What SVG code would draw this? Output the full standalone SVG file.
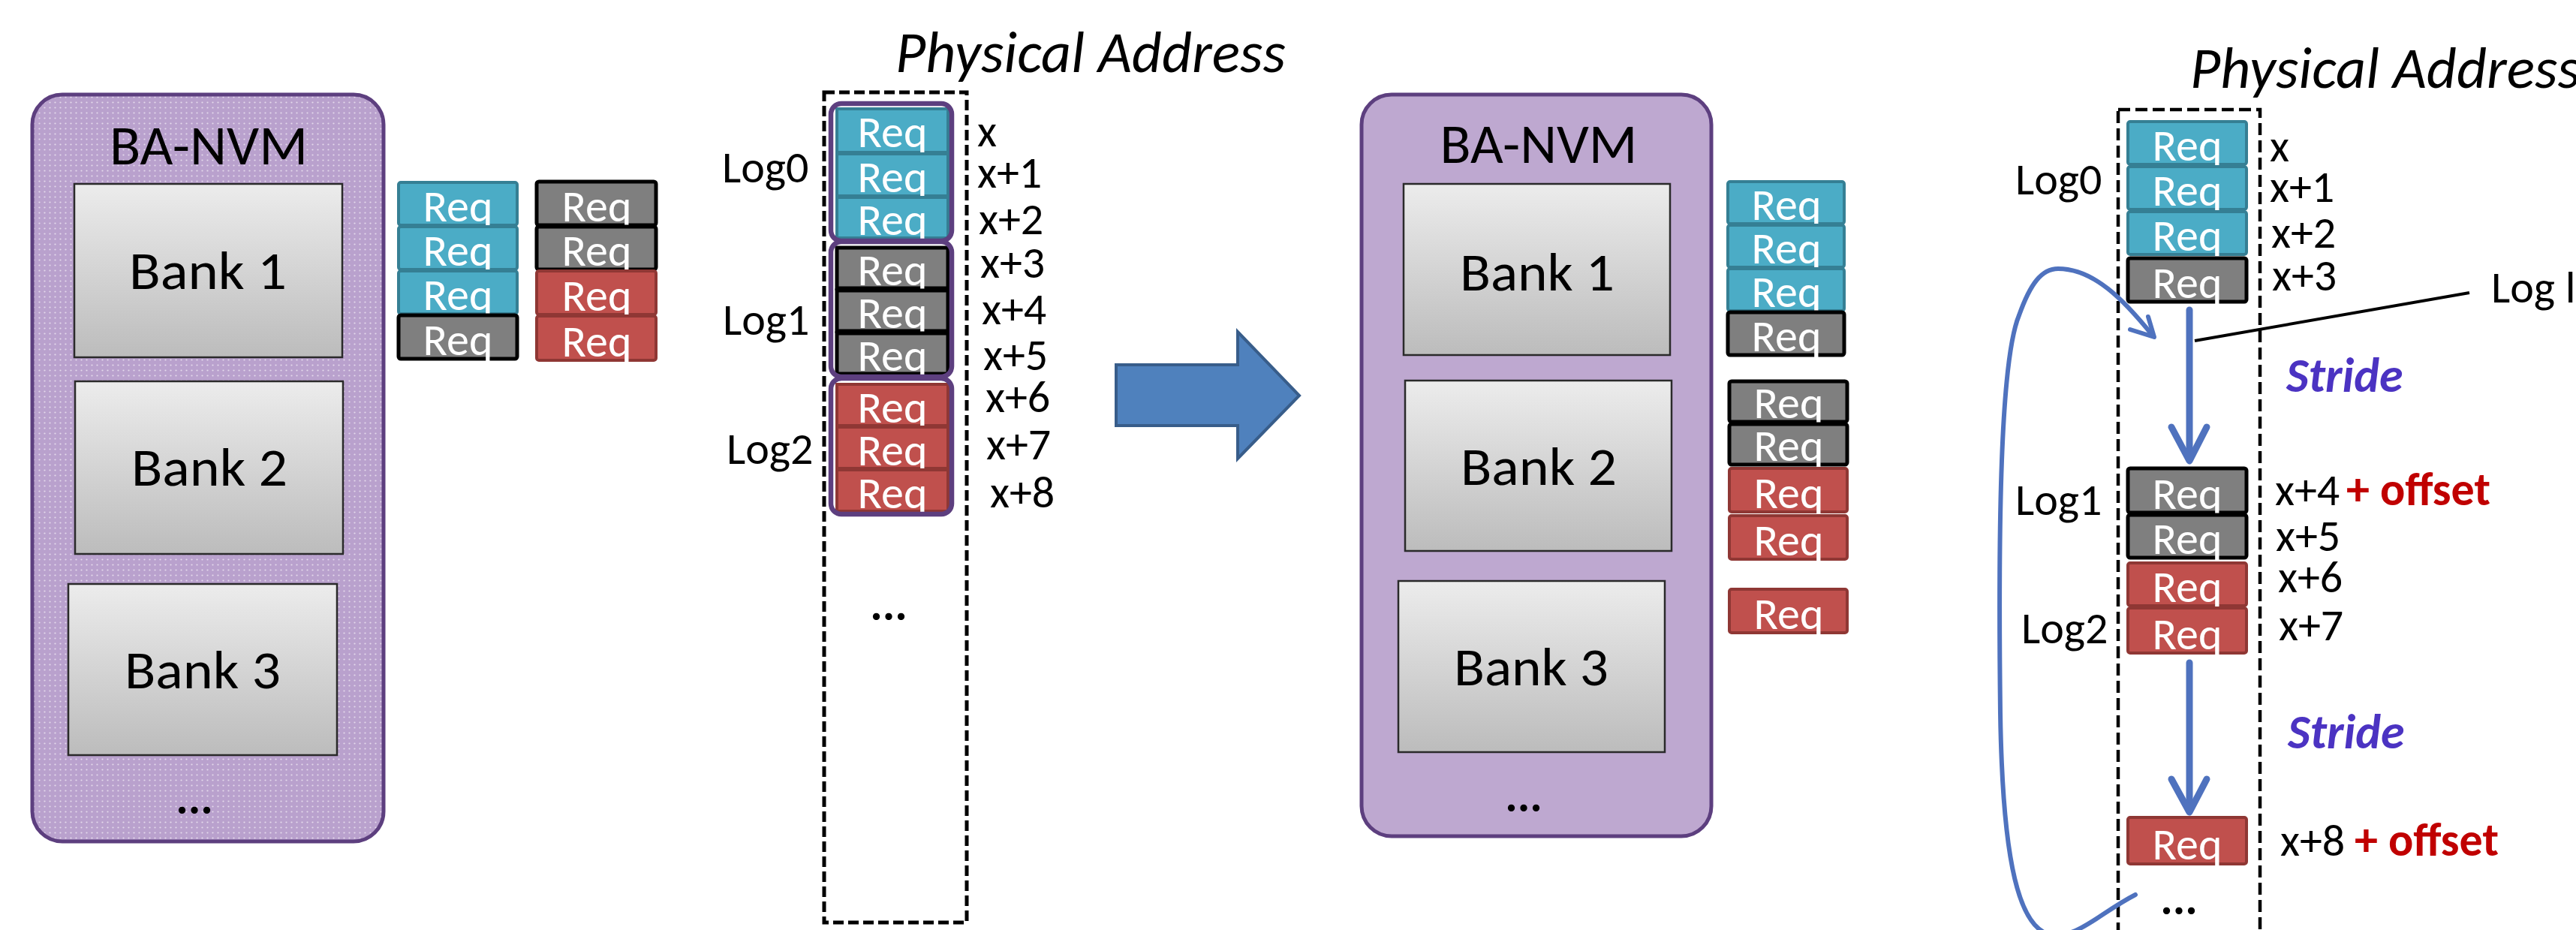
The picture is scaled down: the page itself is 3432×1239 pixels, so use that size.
<svg xmlns="http://www.w3.org/2000/svg" width="3432" height="1239" viewBox="0 0 3432 1239">
  <style>
    text { font-family: Carlito, "Liberation Sans", Arial, sans-serif; fill: #000; }
    .big { font-size: 74px; }
    .bank { font-size: 71px; }
    .lbl { font-size: 60px; }
    .req { font-size: 60px; fill: #fff; text-anchor: middle; }
    .dots { font-size: 62px; font-weight: bold; text-anchor: middle; }
    .pa { font-size: 78px; font-style: italic; }
    .stride { font-size: 64px; font-weight: bold; font-style: italic; fill: #4b33c2; }
    .off { fill: #c00000; font-weight: bold; font-size: 62px; }
    .nvm { stroke: #5d3f7f; stroke-width: 5; }
    .bankbox { fill: url(#bankGrad); stroke: #2a2a2a; stroke-width: 2.5; }
    .blue { fill: #4bacc6; stroke: #357f94; stroke-width: 4; }
    .gray { fill: #7f7f7f; stroke: #000; stroke-width: 5; }
    .red { fill: #c0504d; stroke: #8f3734; stroke-width: 4; }
    .grp { fill: none; stroke: #5d3f7f; stroke-width: 6.5; }
    .dash { fill: none; stroke: #000; stroke-width: 5; stroke-dasharray: 14 6; }
    .flow { fill: none; stroke: #4f72be; stroke-linecap: round; stroke-linejoin: round; }
  </style>
  <defs>
    <linearGradient id="bankGrad" x1="0" y1="0" x2="0" y2="1">
      <stop offset="0" stop-color="#ececec"/>
      <stop offset="1" stop-color="#bcbcbc"/>
    </linearGradient>
    <pattern id="dotPat" width="7" height="7" patternUnits="userSpaceOnUse">
      <rect width="7" height="7" fill="#b9a1cd"/>
      <circle cx="3.5" cy="3.5" r="1.1" fill="#ffffff" fill-opacity="0.6"/>
    </pattern>
  </defs>

  <!-- Left: BA-NVM with banks -->
  <g id="nvm-left">
    <rect class="nvm" x="43" y="126" width="468" height="995" rx="40" fill="url(#dotPat)"/>
    <text class="big" x="278" y="219" text-anchor="middle" textLength="264" lengthAdjust="spacingAndGlyphs">BA-NVM</text>
    <rect class="bankbox" x="99" y="245" width="357" height="231"/>
    <text class="bank" x="277" y="385" text-anchor="middle" textLength="210" lengthAdjust="spacingAndGlyphs">Bank 1</text>
    <rect class="bankbox" x="100" y="508" width="357" height="230"/>
    <text class="bank" x="279" y="647" text-anchor="middle" textLength="208" lengthAdjust="spacingAndGlyphs">Bank 2</text>
    <rect class="bankbox" x="91" y="778" width="358" height="228"/>
    <text class="bank" x="270" y="917" text-anchor="middle" textLength="208" lengthAdjust="spacingAndGlyphs">Bank 3</text>
    <text class="dots" x="259" y="1084">...</text>
  </g>

  <!-- Left: incoming request queues -->
  <g id="queue-left-1">
    <rect class="blue" x="531" y="243" width="158" height="57" rx="3"/><text class="req" x="610" y="295">Req</text>
    <rect class="blue" x="531" y="302" width="158" height="57" rx="3"/><text class="req" x="610" y="354">Req</text>
    <rect class="blue" x="531" y="361" width="158" height="57" rx="3"/><text class="req" x="610" y="413">Req</text>
    <rect class="gray" x="531" y="420" width="158" height="58" rx="3"/><text class="req" x="610" y="473">Req</text>
  </g>
  <g id="queue-left-2">
    <rect class="gray" x="715" y="242" width="159" height="58" rx="3"/><text class="req" x="795" y="295">Req</text>
    <rect class="gray" x="715" y="302" width="159" height="57" rx="3"/><text class="req" x="795" y="354">Req</text>
    <rect class="red" x="715" y="361" width="159" height="58" rx="3"/><text class="req" x="795" y="414">Req</text>
    <rect class="red" x="715" y="421" width="159" height="59" rx="3"/><text class="req" x="795" y="475">Req</text>
  </g>

  <!-- Middle: physical address layout of logs -->
  <g id="addr-space-1">
    <text class="pa" x="1193" y="96">Physical Address</text>
    <rect class="dash" x="1098" y="123" width="190" height="1106"/>
    <rect class="blue" x="1115" y="145" width="148" height="58"/><text class="req" x="1189" y="196">Req</text>
    <rect class="blue" x="1115" y="205" width="148" height="56"/><text class="req" x="1189" y="256">Req</text>
    <rect class="blue" x="1115" y="263" width="148" height="54"/><text class="req" x="1189" y="313">Req</text>
    <rect class="gray" x="1115" y="330" width="148" height="54"/><text class="req" x="1189" y="380">Req</text>
    <rect class="gray" x="1115" y="387" width="148" height="54"/><text class="req" x="1189" y="437">Req</text>
    <rect class="gray" x="1115" y="444" width="148" height="54"/><text class="req" x="1189" y="494">Req</text>
    <rect class="red" x="1115" y="512" width="148" height="55"/><text class="req" x="1189" y="563">Req</text>
    <rect class="red" x="1115" y="569" width="148" height="55"/><text class="req" x="1189" y="620">Req</text>
    <rect class="red" x="1115" y="626" width="148" height="55"/><text class="req" x="1189" y="677">Req</text>
    <rect class="grp" x="1107" y="138" width="161" height="183" rx="14"/>
    <rect class="grp" x="1107" y="322" width="161" height="180" rx="14"/>
    <rect class="grp" x="1107" y="504" width="161" height="181" rx="14"/>
    <text class="lbl" x="962" y="243">Log0</text>
    <text class="lbl" x="963" y="446">Log1</text>
    <text class="lbl" x="968" y="618">Log2</text>
    <text class="lbl" x="1302" y="195">x</text>
    <text class="lbl" x="1302" y="250">x+1</text>
    <text class="lbl" x="1304" y="312">x+2</text>
    <text class="lbl" x="1306" y="370">x+3</text>
    <text class="lbl" x="1308" y="432">x+4</text>
    <text class="lbl" x="1310" y="493">x+5</text>
    <text class="lbl" x="1313" y="549">x+6</text>
    <text class="lbl" x="1314" y="612">x+7</text>
    <text class="lbl" x="1319" y="676">x+8</text>
    <text class="dots" x="1184" y="826">...</text>
  </g>

  <!-- Middle right: BA-NVM with banks -->
  <g id="nvm-right">
    <rect class="nvm" x="1814" y="126" width="466" height="988" rx="40" fill="#bea8d0"/>
    <text class="big" x="2050" y="217" text-anchor="middle" textLength="263" lengthAdjust="spacingAndGlyphs">BA-NVM</text>
    <rect class="bankbox" x="1870" y="245" width="355" height="228"/>
    <text class="bank" x="2048" y="387" text-anchor="middle" textLength="206" lengthAdjust="spacingAndGlyphs">Bank 1</text>
    <rect class="bankbox" x="1872" y="507" width="355" height="227"/>
    <text class="bank" x="2050" y="646" text-anchor="middle" textLength="208" lengthAdjust="spacingAndGlyphs">Bank 2</text>
    <rect class="bankbox" x="1863" y="774" width="355" height="228"/>
    <text class="bank" x="2040" y="913" text-anchor="middle" textLength="206" lengthAdjust="spacingAndGlyphs">Bank 3</text>
    <text class="dots" x="2030" y="1081">...</text>
  </g>

  <!-- Middle right: per-bank request queues -->
  <g id="queue-bank1">
    <rect class="blue" x="2302" y="242" width="155" height="56" rx="3"/><text class="req" x="2380" y="293">Req</text>
    <rect class="blue" x="2302" y="300" width="155" height="56" rx="3"/><text class="req" x="2380" y="351">Req</text>
    <rect class="blue" x="2302" y="358" width="155" height="56" rx="3"/><text class="req" x="2380" y="409">Req</text>
    <rect class="gray" x="2302" y="416" width="155" height="57" rx="3"/><text class="req" x="2380" y="468">Req</text>
  </g>
  <g id="queue-bank2">
    <rect class="gray" x="2304" y="508" width="157" height="54" rx="3"/><text class="req" x="2383" y="557">Req</text>
    <rect class="gray" x="2304" y="565" width="157" height="54" rx="3"/><text class="req" x="2383" y="614">Req</text>
    <rect class="red" x="2304" y="624" width="157" height="58" rx="3"/><text class="req" x="2383" y="677">Req</text>
    <rect class="red" x="2304" y="687" width="157" height="58" rx="3"/><text class="req" x="2383" y="740">Req</text>
  </g>
  <g id="queue-bank3">
    <rect class="red" x="2304" y="785" width="157" height="58" rx="3"/><text class="req" x="2383" y="838">Req</text>
  </g>

  <!-- Right: strided physical address layout -->
  <g id="addr-space-2">
    <text class="pa" x="2918" y="117">Physical Address</text>
    <rect class="dash" x="2822" y="146" width="189" height="1200" style="stroke-width:4.5;stroke-dasharray:16 7"/>
    <rect class="blue" x="2835" y="162" width="158" height="57" rx="3"/><text class="req" x="2914" y="214">Req</text>
    <rect class="blue" x="2835" y="222" width="158" height="57" rx="3"/><text class="req" x="2914" y="274">Req</text>
    <rect class="blue" x="2835" y="282" width="158" height="57" rx="3"/><text class="req" x="2914" y="334">Req</text>
    <rect class="gray" x="2835" y="344" width="158" height="58" rx="3"/><text class="req" x="2914" y="397">Req</text>
    <rect class="gray" x="2835" y="624" width="158" height="59" rx="3"/><text class="req" x="2914" y="678">Req</text>
    <rect class="gray" x="2835" y="686" width="158" height="57" rx="3"/><text class="req" x="2914" y="738">Req</text>
    <rect class="red" x="2835" y="750" width="158" height="57" rx="3"/><text class="req" x="2914" y="802">Req</text>
    <rect class="red" x="2835" y="810" width="158" height="60" rx="3"/><text class="req" x="2914" y="865">Req</text>
    <rect class="red" x="2835" y="1089" width="158" height="62" rx="3"/><text class="req" x="2914" y="1145">Req</text>
    <text class="lbl" x="2685" y="259">Log0</text>
    <text class="lbl" x="2685" y="686">Log1</text>
    <text class="lbl" x="2693" y="857">Log2</text>
    <text class="lbl" x="3024" y="215">x</text>
    <text class="lbl" x="3024" y="269">x+1</text>
    <text class="lbl" x="3026" y="330">x+2</text>
    <text class="lbl" x="3027" y="387">x+3</text>
    <text class="lbl" x="3031" y="673">x+4<tspan class="off" x="3126">+ offset</tspan></text>
    <text class="lbl" x="3032" y="734">x+5</text>
    <text class="lbl" x="3035" y="789">x+6</text>
    <text class="lbl" x="3036" y="853">x+7</text>
    <text class="lbl" x="3038" y="1140">x+8<tspan class="off" x="3137">+ offset</tspan></text>
    <text class="lbl" x="3319" y="403">Log l</text>
    <text class="stride" x="3046" y="522">Stride</text>
    <text class="stride" x="3048" y="997">Stride</text>
    <text class="dots" x="2903" y="1218">...</text>
  </g>

  <!-- Connectors -->
  <g id="connectors">
    <polygon points="1487,486 1649,486 1649,442 1731,527 1649,611 1649,567 1487,567" fill="#4f81bd" stroke="#385d8a" stroke-width="4"/>
    <line x1="3290" y1="390" x2="2924" y2="454" stroke="#000" stroke-width="4"/>
    <line class="flow" x1="2917" y1="413" x2="2917" y2="610" stroke-width="9"/>
    <path class="flow" d="M2893,569 L2917,614 L2940,569" stroke-width="9"/>
    <line class="flow" x1="2917" y1="883" x2="2917" y2="1078" stroke-width="9"/>
    <path class="flow" d="M2893,1038 L2917,1082 L2940,1038" stroke-width="9"/>
    <path class="flow" d="M2845,1192 C2800,1215 2770,1248 2735,1246 C2690,1240 2668,1150 2665,950 C2662,700 2665,480 2690,420 C2705,378 2720,358 2742,358 C2790,358 2830,400 2868,447" stroke-width="6"/>
    <path class="flow" d="M2838,439 L2870,449 L2862,422" stroke-width="6"/>
  </g>
</svg>
